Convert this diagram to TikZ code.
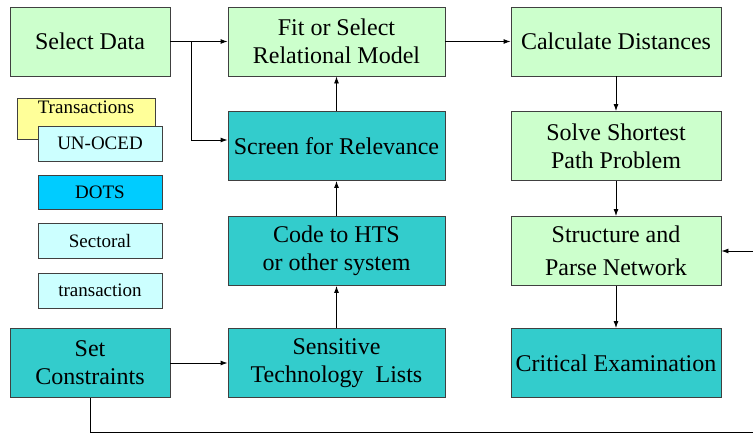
\documentclass[tikz,border=0pt]{standalone}
\usepackage{fontspec}
\setmainfont{Liberation Serif}
\newfontfamily\diagfont{Liberation Serif}
\usepackage{tikz}
\usetikzlibrary{arrows.meta, positioning, calc}
\definecolor{palegreen}{HTML}{CCFFCC}
\definecolor{tealblue}{HTML}{33CCCC}
\definecolor{palecyan}{HTML}{CCFFFF}
\definecolor{dotsblue}{HTML}{00CCFF}
\definecolor{paleyellow}{HTML}{FFFF99}
\tikzset{process/.style={rectangle,draw=black!75,line width=0.9pt,minimum height=69pt,
        inner sep=0pt,align=center,font=\diagfont\fontsize{24}{28}\selectfont},
    green process/.style={process,fill=palegreen},
    teal process/.style={process,fill=tealblue},
    source/.style={rectangle,draw=black!75,line width=0.9pt,minimum width=124pt,
        minimum height=35pt,inner sep=0pt,font=\diagfont\fontsize{19}{22}\selectfont},
    link/.style={draw,line width=0.9pt,-{Latex[length=7pt,width=5pt]}}}

\begin{document}
\begin{tikzpicture}[x=1pt,y=-1pt]
  \useasboundingbox (0,0) rectangle (753,434);

  % left column
  \node[green process,minimum width=160pt] (seldata) at (90,41.5) {Select Data};
  \node[teal process,minimum width=160pt] (setcon) at (90,363) {Set\\Constraints};

  % data sources
  \node[source,fill=paleyellow,minimum width=138pt,minimum height=41pt,
        label={[font=\diagfont\fontsize{19}{22}\selectfont,anchor=north,inner sep=0pt,yshift=-3.5pt]north:Transactions}]
        (trans) at (86,118.5) {};
  \node[source,fill=palecyan] (unoced) at (100,143.5) {UN-OCED};
  \node[source,fill=dotsblue,minimum height=34pt] (dots) at (100,192) {DOTS};
  \node[source,fill=palecyan] (sectoral) at (100,240.5) {Sectoral};
  \node[source,fill=palecyan] (transact) at (100,290.5) {transaction};

  % middle column
  \node[green process,minimum width=217pt] (fitmodel) at (336.5,41.5) {Fit or Select\\Relational Model};
  \node[teal process,minimum width=217pt] (screen) at (336.5,146) {Screen for Relevance};
  \node[teal process,minimum width=217pt] (code) at (336.5,251) {Code to HTS\\or other system};
  \node[teal process,minimum width=217pt] (sensitive) at (336.5,363) {Sensitive\\Technology~~Lists};

  % right column
  \node[green process,minimum width=210pt] (calcdist) at (616,41.5) {Calculate Distances};
  \node[green process,minimum width=210pt] (shortest) at (616,146) {Solve Shortest\\Path Problem};
  \node[green process,minimum width=210pt,font=\diagfont\fontsize{24}{33}\selectfont] (structure) at (616,251) {Structure and\\Parse Network};
  \node[teal process,minimum width=210pt] (critical) at (616,363) {Critical Examination};

  % connectors
  \coordinate (split) at (191,41.5);
  \path[link] (seldata) -- (fitmodel);
  \path[link] (split) |- ([yshift=6pt]screen.west);
  \path[link] (screen) -- (fitmodel);
  \path[link] (code) -- (screen);
  \path[link] (sensitive) -- (code);
  \path[link] (setcon) -- (sensitive);
  \path[link] (fitmodel) -- (calcdist);
  \path[link] (calcdist) -- (shortest);
  \path[link] (shortest) -- (structure);
  \path[link] (structure) -- (critical);

  % feedback from the constraints
  \coordinate (low) at (90,432.5);
  \coordinate (edge) at (754.5,432.5);
  \path[link] (setcon) -- (low) -- (edge) |- (structure.east);

\end{tikzpicture}
\end{document}
